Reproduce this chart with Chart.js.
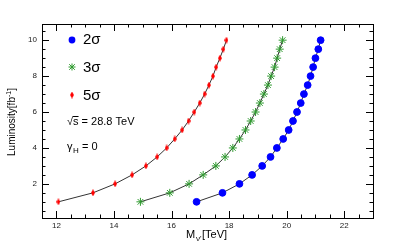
<!DOCTYPE html>
<html>
<head>
<meta charset="utf-8">
<script src="https://cdn.jsdelivr.net/npm/chart.js@4"></script>
<style>
  html, body { margin: 0; padding: 0; background: #fff; }
  #wrap { width: 415px; height: 243px; }
</style>
</head>
<body>
<div id="wrap"><canvas id="myChart" width="415" height="243"></canvas></div>
<script>
// luminosity steps shared by all three curves
const lumi = [1, 1.5, 2, 2.5, 3, 3.5, 4, 4.5, 5, 5.5, 6, 6.5, 7, 7.5, 8, 8.5, 9, 9.5, 10];

// mass reach for each significance
const mass2s = [16.87, 17.77, 18.36, 18.80, 19.15, 19.44, 19.66, 19.88, 20.07, 20.22,
                20.36, 20.49, 20.60, 20.73, 20.83, 20.92, 21.00, 21.10, 21.18];
const mass3s = [14.92, 15.94, 16.61, 17.10, 17.54, 17.86, 18.13, 18.36, 18.57, 18.75,
                18.92, 19.07, 19.21, 19.35, 19.46, 19.58, 19.67, 19.76, 19.86];
const mass5s = [12.07, 13.27, 14.04, 14.63, 15.11, 15.50, 15.83, 16.11, 16.37, 16.59,
                16.79, 16.98, 17.15, 17.30, 17.44, 17.55, 17.68, 17.80, 17.91];

const xTicks = [12, 14, 16, 18, 20, 22];
const yTicks = [2, 4, 6, 8, 10];

function toPoints(xs, ys) {
    return xs.map((x, i) => ({ x: x, y: ys[i] }));
}

// thin red diamond like ROOT marker 33
function diamondMarker() {
    const c = document.createElement('canvas');
    c.width = 4; c.height = 7;
    const g = c.getContext('2d');
    g.fillStyle = '#ff0000';
    g.beginPath();
    g.moveTo(2, 0); g.lineTo(4, 3.5); g.lineTo(2, 7); g.lineTo(0, 3.5);
    g.closePath(); g.fill();
    return c;
}
const redMarker = diamondMarker();

const BLUE = '#0000ff', GREEN = '#2f9a2f', RED = '#ff0000';
const FONT = '"Liberation Sans", Arial, sans-serif';

// frame, inward ticks, legend and axis titles drawn ROOT style
const frame = {
    id: 'frame',
    afterDraw(chart) {
        const ctx = chart.ctx;
        const a = chart.chartArea;
        const xs = chart.scales.x, ys = chart.scales.y;
        ctx.save();
        ctx.strokeStyle = '#000';
        ctx.lineWidth = 1;
        ctx.strokeRect(a.left + 0.5, a.top + 0.5, a.right - a.left, a.bottom - a.top);
        ctx.beginPath();
        for (let v = 11.5; v <= 23; v += 0.5) {
            const px = Math.round(xs.getPixelForValue(v)) + 0.5;
            const len = (v % 2 === 0) ? 7 : 3.5;
            ctx.moveTo(px, a.bottom); ctx.lineTo(px, a.bottom - len);
            ctx.moveTo(px, a.top); ctx.lineTo(px, a.top + len);
        }
        for (let v = 0.5; v <= 10.8; v += 0.5) {
            const py = Math.round(ys.getPixelForValue(v)) + 0.5;
            const len = (v % 2 === 0) ? 7 : 3.5;
            ctx.moveTo(a.left, py); ctx.lineTo(a.left + len, py);
            ctx.moveTo(a.right, py); ctx.lineTo(a.right - len, py);
        }
        ctx.stroke();

        // legend
        ctx.fillStyle = BLUE;
        ctx.beginPath(); ctx.arc(72, 40, 3.4, 0, Math.PI * 2); ctx.fill();
        drawStar(ctx, 72, 67, GREEN);
        ctx.drawImage(redMarker, 70, 91.5);

        ctx.fillStyle = '#000';
        ctx.textBaseline = 'middle';
        ctx.textAlign = 'left';
        ctx.font = '15px ' + FONT;
        ctx.fillText('2σ', 83, 40);
        ctx.fillText('3σ', 83, 68);
        ctx.fillText('5σ', 83, 96);

        ctx.font = '11px ' + FONT;
        ctx.fillText('√s = 28.8 TeV', 67, 122);
        const sx = 67 + ctx.measureText('√').width;
        const sw = ctx.measureText('s').width;
        ctx.beginPath();
        ctx.moveTo(sx, 116.5); ctx.lineTo(sx + sw, 116.5);
        ctx.stroke();

        ctx.font = '11px ' + FONT;
        ctx.fillText('γ', 67, 147);
        ctx.font = '8px ' + FONT;
        ctx.fillText('H', 73, 151);
        ctx.font = '11px ' + FONT;
        ctx.fillText(' = 0', 79, 147);

        // x title
        ctx.textBaseline = 'alphabetic';
        ctx.font = '11px ' + FONT;
        ctx.fillText('M', 186, 238);
        ctx.font = '8px ' + FONT;
        ctx.fillText("ν'", 196, 241);
        ctx.font = '11px ' + FONT;
        ctx.fillText('[TeV]', 202, 238);

        // y title
        ctx.translate(15, 122);
        ctx.rotate(-Math.PI / 2);
        ctx.font = '10px ' + FONT;
        const t1 = 'Luminosity[fb';
        const w1 = ctx.measureText(t1).width;
        ctx.font = '7px ' + FONT;
        const w2 = ctx.measureText('-1').width;
        ctx.font = '10px ' + FONT;
        const w3 = ctx.measureText(']').width;
        let x0 = -(w1 + w2 + w3) / 2;
        ctx.fillText(t1, x0, 0);
        ctx.font = '7px ' + FONT;
        ctx.fillText('-1', x0 + w1, -4);
        ctx.font = '10px ' + FONT;
        ctx.fillText(']', x0 + w1 + w2, 0);
        ctx.restore();
    }
};

function drawStar(ctx, x, y, color) {
    ctx.save();
    ctx.strokeStyle = color;
    ctx.lineWidth = 1;
    const r = 3.5;
    ctx.beginPath();
    ctx.moveTo(x - r, y); ctx.lineTo(x + r, y);
    ctx.moveTo(x, y - r); ctx.lineTo(x, y + r);
    ctx.moveTo(x - r * 0.8, y - r * 0.8); ctx.lineTo(x + r * 0.8, y + r * 0.8);
    ctx.moveTo(x - r * 0.8, y + r * 0.8); ctx.lineTo(x + r * 0.8, y - r * 0.8);
    ctx.stroke();
    ctx.restore();
}

function series(data, style, color, radius) {
    return {
        data: data,
        showLine: true,
        borderColor: '#333',
        borderWidth: 1,
        pointStyle: style,
        pointRadius: radius,
        pointBackgroundColor: color,
        pointBorderColor: color,
        pointBorderWidth: 1,
        tension: 0
    };
}

const ctx = document.getElementById('myChart').getContext('2d');
const myChart = new Chart(ctx, {
    type: 'scatter',
    data: {
        datasets: [
            series(toPoints(mass2s, lumi), 'circle', BLUE, 3.4),
            series(toPoints(mass3s, lumi), 'star', GREEN, 4),
            series(toPoints(mass5s, lumi), redMarker, RED, 3)
        ]
    },
    plugins: [frame],
    options: {
        responsive: false,
        animation: false,
        layout: { padding: { top: 24, right: 42, left: 0, bottom: 0 } },
        plugins: { legend: { display: false }, tooltip: { enabled: false } },
        scales: {
            x: {
                type: 'linear',
                min: 11.5,
                max: 23,
                afterBuildTicks: s => { s.ticks = xTicks.map(v => ({ value: v })); },
                afterFit: s => { s.height = 25; },
                grid: { display: false, drawTicks: false, tickLength: 0 },
                border: { display: false },
                ticks: { font: { size: 8, family: FONT }, color: '#222', padding: 3, maxRotation: 0 }
            },
            y: {
                type: 'linear',
                min: 0.1,
                max: 10.9,
                afterBuildTicks: s => { s.ticks = yTicks.map(v => ({ value: v })); },
                afterFit: s => { s.width = 42; },
                grid: { display: false, drawTicks: false, tickLength: 0 },
                border: { display: false },
                ticks: { font: { size: 8, family: FONT }, color: '#222', padding: 5 }
            }
        }
    }
});
</script>
</body>
</html>
